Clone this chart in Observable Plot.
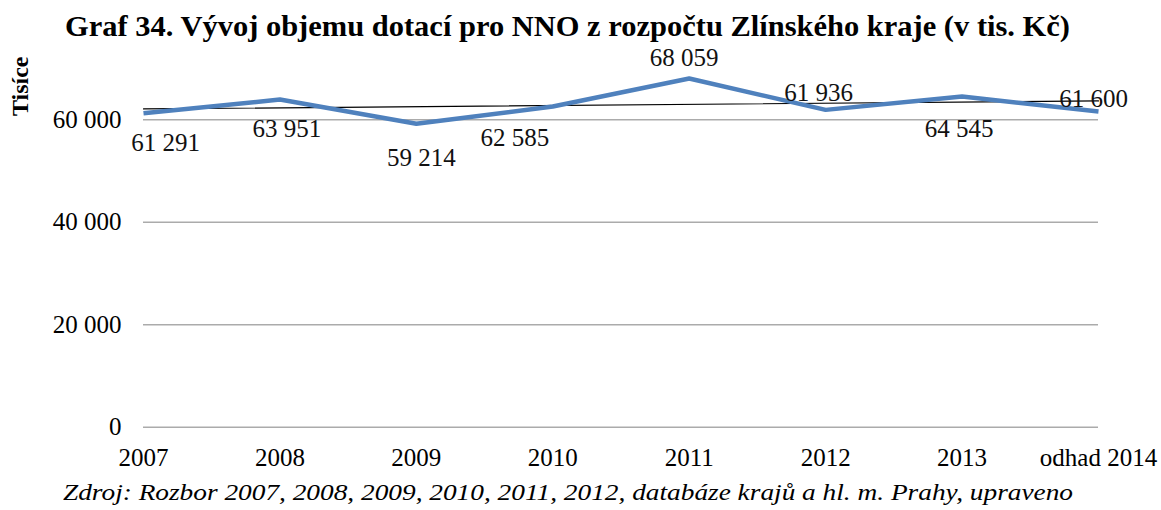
<!DOCTYPE html>
<html>
<head>
<meta charset="utf-8">
<script src="https://cdn.jsdelivr.net/npm/d3@7"></script>
<script src="https://cdn.jsdelivr.net/npm/@observablehq/plot@0.6"></script>
<style>
  html, body { margin: 0; padding: 0; background: #fff; }
  body { width: 1161px; height: 510px; overflow: hidden; position: relative; font-family: "Liberation Serif", serif; }
  .title { position: absolute; top: 9px; left: 65px; z-index: 2; white-space: nowrap; font-weight: bold; font-size: 30px; line-height: 34px; color: #000; transform-origin: 0 0; }
  .caption { position: absolute; top: 478px; left: 63px; z-index: 2; white-space: nowrap; font-style: italic; font-size: 24px; line-height: 28px; color: #000; transform-origin: 0 0; }
  #chart { position: absolute; top: 40px; left: 0; z-index: 1; }
</style>
</head>
<body>
<div class="title" id="title">Graf 34. Vývoj objemu dotací pro NNO z rozpočtu Zlínského kraje (v tis. Kč)</div>
<div id="chart"></div>
<div class="caption" id="caption">Zdroj: Rozbor 2007, 2008, 2009, 2010, 2011, 2012, databáze krajů a hl. m. Prahy, upraveno</div>
<script>
// Categories and values (tis. Kč)
const years = ["2007", "2008", "2009", "2010", "2011", "2012", "2013", "odhad 2014"];
const grants = [61291, 63951, 59214, 62585, 68059, 61936, 64545, 61600];
const yTicks = [0, 20000, 40000, 60000];
const unitLabel = "Tisíce";

// Data-label nudges (dx, dy in px) relative to each point
const labelDx = [22, 7, 5, -38, -5, -7, -3, -5];
const labelDy = [30, 29, 34, 31, -21, -17, 32, -13];

const fmt = d3.formatLocale({decimal: ",", thousands: " ", grouping: [3], currency: ["", ""]}).format(",d");

const rows = years.map((year, i) => ({i, year, value: grants[i], dx: labelDx[i], dy: labelDy[i]}));

const font = "Liberation Serif, serif";

// Rotated display-unit label beside the value axis
function unitTitle(index, scales, values, dims) {
  const t = document.createElementNS("http://www.w3.org/2000/svg", "text");
  t.setAttribute("transform", `translate(20, ${dims.marginTop - 33}) rotate(-90)`);
  t.setAttribute("text-anchor", "middle");
  t.setAttribute("dominant-baseline", "central");
  t.setAttribute("font-weight", "bold");
  t.setAttribute("font-size", "24");
  t.setAttribute("fill", "#000");
  t.textContent = unitLabel;
  return t;
}

const chart = Plot.plot({
  width: 1161,
  height: 440,
  marginLeft: 143,
  marginRight: 63,
  marginTop: 79.3,
  marginBottom: 53.3,
  style: {fontFamily: font, fontSize: "25px", color: "#000", background: "transparent", overflow: "visible"},
  x: {type: "linear", domain: [0, years.length - 1], label: null},
  y: {domain: [0, 60000], label: null},
  marks: [
    Plot.ruleY(yTicks, {stroke: "#ababab", strokeWidth: 1.6}),
    Plot.axisY(yTicks, {tickSize: 0, tickPadding: 22, tickFormat: fmt, fontSize: 25, fill: "#000", label: null}),
    Plot.axisX(d3.range(years.length), {tickSize: 0, tickPadding: 21, tickFormat: i => years[i], fontSize: 25, fill: "#000", label: null}),
    Plot.linearRegressionY(rows, {x: "i", y: "value", ci: 0, stroke: "#000", strokeWidth: 1.2}),
    Plot.line(rows, {x: "i", y: "value", stroke: "#4f81bd", strokeWidth: 4.5, strokeLinejoin: "miter", strokeLinecap: "butt"}),
    ...rows.map(r => Plot.text([r], {x: "i", y: "value", text: d => fmt(d.value), dx: r.dx, dy: r.dy, fontSize: 25, fill: "#111"})),
    unitTitle
  ]
});
document.getElementById("chart").appendChild(chart);

// Stretch the title and source line to their typeset widths
function fitWidth(id, target) {
  const el = document.getElementById(id);
  const w = el.getBoundingClientRect().width;
  if (w > 0) el.style.transform = `scaleX(${target / w})`;
}
fitWidth("title", 1005);
fitWidth("caption", 1010);
</script>
</body>
</html>
